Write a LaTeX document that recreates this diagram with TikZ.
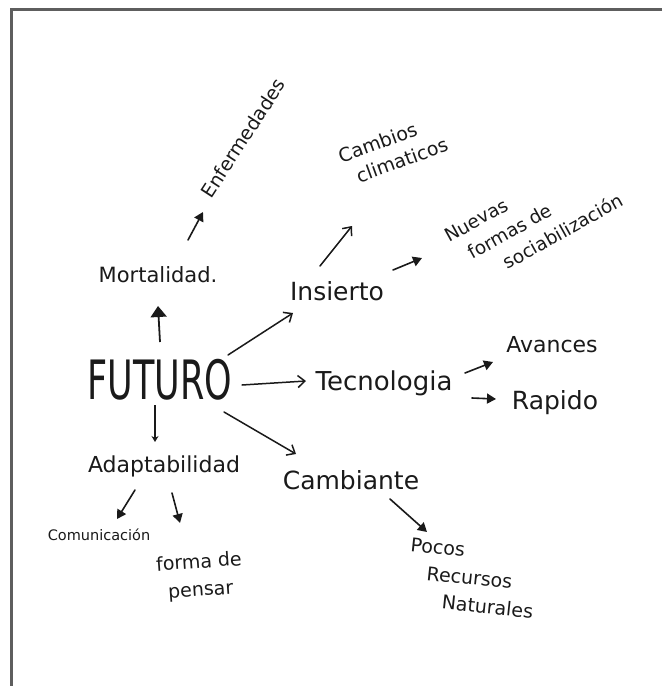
\documentclass[tikz,border=0pt]{standalone}
\usepackage{fontspec}
\usepackage{graphicx}
\setmainfont{DejaVu Sans}
\usetikzlibrary{arrows.meta,calc}
\newcommand\hwf[1]{\fontsize{#1}{#1}\selectfont}
\definecolor{ink}{HTML}{1A1A1A}
\definecolor{framegray}{HTML}{5E5E5E}
\begin{document}
\begin{tikzpicture}[x=1pt,y=-1pt,
  lbl/.style={inner sep=1pt, text=ink},
  op/.style={draw=ink, line width=1.5pt, line cap=round, -{Straight Barb[length=7pt,width=12pt,line width=1.5pt]}},
  fl/.style={draw=ink, line width=1.6pt, line cap=round, -{Triangle[length=9pt,width=10pt]}},
  big/.style={draw=ink, line width=1.8pt, -{Triangle[length=11pt,width=16pt]}},
  sm/.style={draw=ink, line width=1.3pt, -{Stealth[length=6pt,width=7pt]}}]
\useasboundingbox (0,0) rectangle (662,686);
\fill[white] (0,0) rectangle (662,686);
\draw[framegray, line width=2.6pt] (662,9.5) -- (11.5,9.5) -- (11.5,686);

% nodes
\node[lbl, font=\hwf{35}] (fut) at (160,380) {\scalebox{1}[1.55]{FUTURO}};
\node[lbl, font=\hwf{21}] (mort) at (158,275) {Mortalidad.};
\node[lbl, font=\hwf{19}, rotate=57] (enf) at (243,138) {Enfermedades};
\node[lbl, font=\hwf{25}] (ins) at (337,291) {Insierto};
\node[lbl, font=\fontsize{19}{25}\selectfont, align=left, rotate=20] (cc) at (393,150) {Cambios\\\hspace*{10pt}climaticos};
\node[lbl, font=\fontsize{18.5}{26}\selectfont, align=left, rotate=29] (nue) at (534,218) {Nuevas\\\hspace*{12pt}formas de\\\hspace*{38pt}sociabilización};
\node[lbl, font=\hwf{26}] (tec) at (384,383) {Tecnologia};
\node[lbl, font=\hwf{22}] (av) at (552,345) {Avances};
\node[lbl, font=\hwf{25}] (rap) at (555,403) {Rapido};
\node[lbl, font=\hwf{25}] (cam) at (351,480) {Cambiante};
\node[lbl, font=\fontsize{19}{27}\selectfont, align=left, rotate=-6] (poc) at (472,578) {Pocos\\\hspace*{19pt}Recursos\\\hspace*{37pt}Naturales};
\node[lbl, font=\hwf{22}] (adapt) at (164,466) {Adaptabilidad};
\node[lbl, font=\hwf{14.5}] (com) at (99,535) {Comunicación};
\node[lbl, font=\fontsize{19}{28}\selectfont, align=left, rotate=4] (fdp) at (200,577) {forma de\\\hspace*{10pt}pensar};

% connectors
\draw[fl]  ($(mort)+(30,-35)$) -- ($(enf)+(-40,74)$);
\draw[big] ($(fut)+(0,-38)$) -- ($(mort)+(0,31)$);
\draw[op]  ($(fut)+(68,-25)$) -- ($(ins)+(-44,22)$);
\draw[op]  ($(ins)+(-17,-25)$) -- ($(cc)+(-41,76)$);
\draw[fl]  ($(ins)+(56,-21)$) -- ($(nue)+(-112,40)$);
\draw[op]  ($(fut)+(82,5)$) -- ($(tec)+(-78,-2)$);
\draw[fl]  ($(tec)+(81,-10)$) -- ($(av)+(-59,17)$);
\draw[fl]  ($(tec)+(88,15)$) -- ($(rap)+(-59,-4)$);
\draw[op]  ($(fut)+(64,32)$) -- ($(cam)+(-55,-26)$);
\draw[fl]  ($(cam)+(39,19)$) -- ($(poc)+(-45,-46)$);
\draw[sm]  ($(fut)+(-5,25)$) -- ($(adapt)+(-9,-24)$);
\draw[fl]  ($(adapt)+(-29,24)$) -- ($(com)+(18,-16)$);
\draw[fl]  ($(adapt)+(8,27)$) -- ($(fdp)+(-20,-54)$);
\end{tikzpicture}
\end{document}
